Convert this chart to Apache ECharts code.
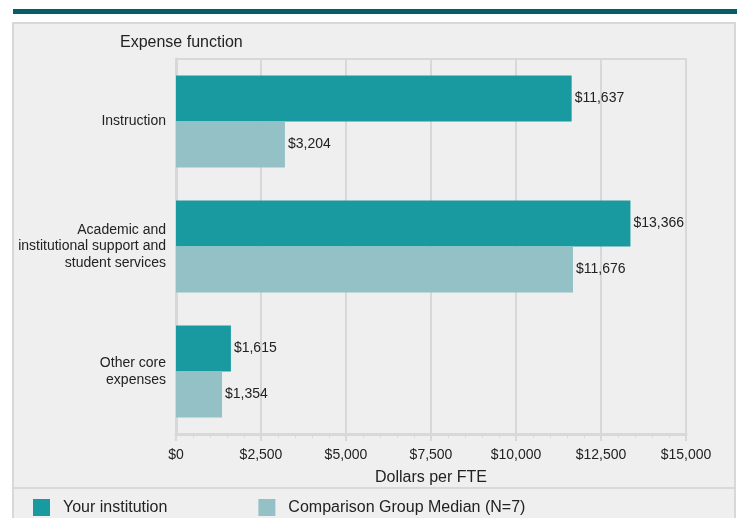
<!DOCTYPE html>
<html>
<head>
<meta charset="utf-8">
<script src="https://cdn.jsdelivr.net/npm/echarts@6/dist/echarts.min.js"></script>
<style>
  html, body { margin: 0; padding: 0; background: #fff; }
  #chart { width: 737px; height: 518px; }
</style>
</head>
<body>
<div id="chart"></div>
<script>
const categories = ["Instruction", "Academic and\ninstitutional support and\nstudent services", "Other core\nexpenses"];
const yourInstitution = [11637, 13366, 1615];
const comparisonMedian = [3204, 11676, 1354];
const seriesNames = ["Your institution", "Comparison Group Median (N=7)"];

const FONT = "'Liberation Sans', Arial, sans-serif";
const money = (v) => "$" + v.toLocaleString("en-US");

const chart = echarts.init(document.getElementById("chart"));

chart.setOption({
  animation: false,
  textStyle: { fontFamily: FONT },
  graphic: [
    { type: "rect", z: -10, shape: { x: 13, y: 9, width: 730, height: 5 }, style: { fill: "#035f63" } },
    { type: "rect", z: -10, shape: { x: 13, y: 23, width: 722, height: 510 }, style: { fill: "#efefef", stroke: "#d8d8d8", lineWidth: 2 } },
    { type: "line", z: -9, shape: { x1: 13, y1: 488, x2: 735, y2: 488 }, style: { stroke: "#d8d8d8", lineWidth: 2 } }
  ],
  title: {
    text: "Expense function",
    left: 115,
    top: 30,
    textStyle: { fontFamily: FONT, fontSize: 16, fontWeight: "normal", color: "#222" }
  },
  legend: {
    left: 33,
    top: 499,
    padding: 0,
    itemWidth: 17,
    itemHeight: 17,
    itemGap: 91,
    icon: "rect",
    data: seriesNames,
    textStyle: { fontFamily: FONT, fontSize: 16, color: "#222", padding: [2, 0, 0, 8] }
  },
  grid: {
    left: 176,
    right: 51,
    top: 59,
    bottom: 84,
    show: true,
    borderColor: "#d8d8d8",
    borderWidth: 2,
    backgroundColor: "transparent"
  },
  xAxis: {
    type: "value",
    min: 0,
    max: 15000,
    interval: 2500,
    name: "Dollars per FTE",
    nameLocation: "middle",
    nameGap: 36,
    nameTextStyle: { fontFamily: FONT, fontSize: 16, color: "#222" },
    axisLine: { show: true, lineStyle: { color: "#d8d8d8", width: 3 } },
    axisTick: { show: true, length: 7, lineStyle: { color: "#d8d8d8", width: 2 } },
    minorTick: { show: true, splitNumber: 5, length: 4, lineStyle: { color: "#d8d8d8", width: 1 } },
    axisLabel: { formatter: money, margin: 14, fontFamily: FONT, fontSize: 14, color: "#222" },
    splitLine: { show: true, lineStyle: { color: "#d8d8d8", width: 2 } }
  },
  yAxis: {
    type: "category",
    inverse: true,
    data: categories,
    axisLine: { show: true, lineStyle: { color: "#d8d8d8", width: 3 } },
    axisTick: { show: false },
    axisLabel: { margin: 10, fontFamily: FONT, fontSize: 14, color: "#222", lineHeight: 16.5, align: "right", padding: [5, 0, 0, 0] }
  },
  series: [
    {
      name: seriesNames[0],
      type: "bar",
      data: yourInstitution,
      barWidth: 46,
      barGap: "0%",
      itemStyle: { color: "#189aa0" },
      label: { show: true, position: "right", distance: 3, formatter: (p) => money(p.value), fontFamily: FONT, fontSize: 14, color: "#222" }
    },
    {
      name: seriesNames[1],
      type: "bar",
      data: comparisonMedian,
      barWidth: 46,
      barGap: "0%",
      itemStyle: { color: "#93c1c6" },
      label: { show: true, position: "right", distance: 3, formatter: (p) => money(p.value), fontFamily: FONT, fontSize: 14, color: "#222" }
    }
  ]
});
</script>
</body>
</html>
